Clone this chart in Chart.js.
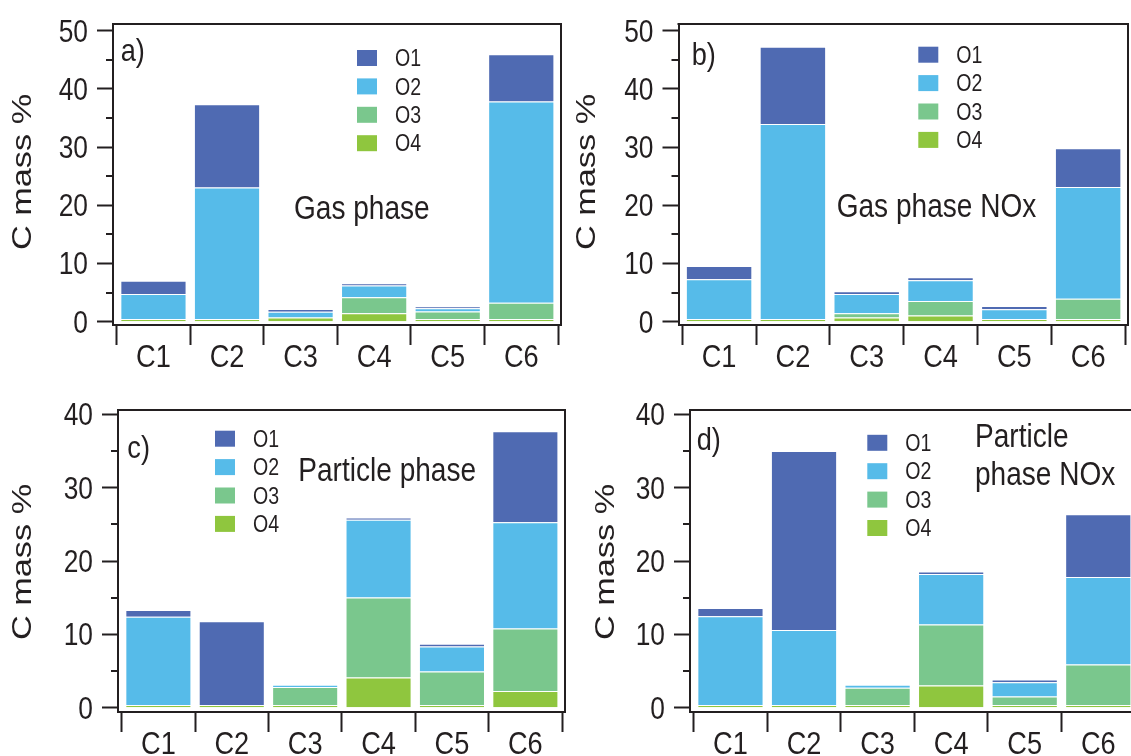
<!DOCTYPE html>
<html>
<head>
<meta charset="utf-8">
<title>C mass % – gas and particle phase</title>
<script src="https://cdn.jsdelivr.net/npm/chart.js@4.4.0/dist/chart.umd.min.js"></script>
<style>
  html, body { margin: 0; padding: 0; background: #fff; }
  body { position: relative; width: 1131px; height: 756px; overflow: hidden; }
  canvas { position: absolute; }
</style>
</head>
<body>
<canvas id="chartA" style="left:0;top:0" width="570" height="378"></canvas>
<canvas id="chartB" style="left:565px;top:0" width="566" height="378"></canvas>
<canvas id="chartC" style="left:0;top:378px" width="570" height="378"></canvas>
<canvas id="chartD" style="left:565px;top:378px" width="580" height="378"></canvas>
<script>
// ── Data ─────────────────────────────────────────────────────
const categories   = ['C1', 'C2', 'C3', 'C4', 'C5', 'C6'];
const seriesNames  = ['O1', 'O2', 'O3', 'O4'];
const seriesColors = ['#4f6ab2', '#56bbe9', '#7ac78d', '#8fc63e'];

const yTicksGas      = [0, 10, 20, 30, 40, 50];
const yTicksParticle = [0, 10, 20, 30, 40];

// a) Gas phase
const gasO1 = [2.3, 14.3, 0.5, 0.4, 0.35, 8.1];
const gasO2 = [4.3, 22.6, 1.0, 2.0, 0.55, 34.6];
const gasO3 = [0, 0, 0, 2.75, 1.3, 2.8];
const gasO4 = [0.45, 0.45, 0.7, 1.45, 0.45, 0.45];

// b) Gas phase NOx
const gasNoxO1 = [2.25, 13.3, 0.5, 0.55, 0.55, 6.65];
const gasNoxO2 = [6.85, 33.5, 3.3, 3.55, 1.7, 19.2];
const gasNoxO3 = [0, 0, 0.75, 2.5, 0, 3.5];
const gasNoxO4 = [0.45, 0.45, 0.7, 1.05, 0.45, 0.45];

// c) Particle phase
const partO1 = [0.95, 11.4, 0, 0.3, 0.4, 12.4];
const partO2 = [12.0, 0, 0.3, 10.6, 3.4, 14.5];
const partO3 = [0, 0, 2.45, 10.9, 4.55, 8.5];
const partO4 = [0.4, 0.4, 0.4, 4.15, 0.4, 2.3];

// d) Particle phase NOx
const partNoxO1 = [1.1, 24.4, 0, 0.35, 0.35, 8.55];
const partNoxO2 = [12.1, 10.2, 0.4, 6.9, 1.95, 11.95];
const partNoxO3 = [0, 0, 2.35, 8.3, 1.15, 5.5];
const partNoxO4 = [0.4, 0.4, 0.4, 3.05, 0.4, 0.4];

// ── Style ────────────────────────────────────────────────────
const INK     = '#231f20';
const FONT    = '"Liberation Sans", Arial, sans-serif';
const SQUEEZE = 0.85;   // the original lettering is a narrow grotesque
const X_MIN   = -0.05;
const X_MAX   = 6.04;

const panels = [
  { id: 'chartA', tag: 'a)', series: [gasO1, gasO2, gasO3, gasO4], yTicks: yTicksGas,
    yMin: -0.57, yMax: 51.15, area: { left: 113, top: 24, right: 561, bottom: 325 },
    tagAt: [120.7, 61], notes: [['Gas phase', 294, 219]], legendAt: [357, 58], titleAt: [24, 172] },
  { id: 'chartB', tag: 'b)', series: [gasNoxO1, gasNoxO2, gasNoxO3, gasNoxO4], yTicks: yTicksGas,
    yMin: -0.57, yMax: 51.15, area: { left: 113.5, top: 24, right: 563, bottom: 325 },
    tagAt: [126.7, 65], notes: [['Gas phase NOx', 271.7, 217]], legendAt: [353.3, 54.7], titleAt: [23, 172] },
  { id: 'chartC', tag: 'c)', series: [partO1, partO2, partO3, partO4], yTicks: yTicksParticle,
    yMin: -0.57, yMax: 40.6, area: { left: 118, top: 32, right: 565, bottom: 334 },
    tagAt: [127.3, 80], notes: [['Particle phase', 298.3, 102.7]], legendAt: [215, 60.7], titleAt: [24, 184] },
  { id: 'chartD', tag: 'd)', series: [partNoxO1, partNoxO2, partNoxO3, partNoxO4], yTicks: yTicksParticle,
    yMin: -0.57, yMax: 40.6, area: { left: 125, top: 32, right: 573, bottom: 334 },
    tagAt: [131.7, 72], notes: [['Particle', 410, 69], ['phase NOx', 410, 107]], legendAt: [302.3, 64.8], titleAt: [41.7, 184] }
];

function narrowText(ctx, txt, x, y, size, align) {
  ctx.save();
  ctx.translate(x, y);
  ctx.scale(SQUEEZE, 1);
  ctx.font = `${size}px ${FONT}`;
  ctx.textAlign = align || 'left';
  ctx.fillText(txt, 0, 0);
  ctx.restore();
}

// ── Decorations: frame, minor ticks, labels, legend ─────────
function makeDecor(p) {
  return {
    id: 'panelDecor',
    afterDraw(chart) {
      const { ctx, chartArea: a } = chart;
      const xScale = chart.scales.x;
      const yScale = chart.scales.y;
      ctx.save();
      ctx.strokeStyle = INK;
      ctx.fillStyle = INK;
      ctx.lineWidth = 2;
      ctx.textBaseline = 'alphabetic';

      // top + right frame
      ctx.beginPath();
      ctx.moveTo(a.left - 1, a.top);
      ctx.lineTo(a.right, a.top);
      ctx.lineTo(a.right, a.bottom + 1);
      ctx.stroke();

      // minor y ticks halfway between labelled ones
      for (let i = 0; i < p.yTicks.length - 1; i++) {
        const py = Math.round(yScale.getPixelForValue((p.yTicks[i] + p.yTicks[i + 1]) / 2));
        ctx.beginPath();
        ctx.moveTo(a.left - 7, py);
        ctx.lineTo(a.left, py);
        ctx.stroke();
      }

      // tick labels, placed from the chart's own scales
      p.yTicks.forEach(v => narrowText(ctx, String(v), a.left - 25, yScale.getPixelForValue(v) + 11, 31, 'right'));
      categories.forEach((c, i) => narrowText(ctx, c, xScale.getPixelForValue(i + 0.5), a.bottom + 42, 32, 'center'));

      // legend (O1 on top)
      const [lx, ly] = p.legendAt;
      chart.data.datasets.slice().reverse().forEach((ds, i) => {
        const cy = ly + i * 28.4;
        ctx.fillStyle = ds.backgroundColor;
        ctx.fillRect(lx, cy - 8, 20, 16);
        ctx.fillStyle = INK;
        narrowText(ctx, ds.label, lx + 38, cy + 8.2, 23);
      });

      // panel tag + phase notes
      narrowText(ctx, p.tag, p.tagAt[0], p.tagAt[1], 32);
      p.notes.forEach(([txt, x, y]) => narrowText(ctx, txt, x, y, 33));

      // y title, stretched along its length like the original
      ctx.translate(p.titleAt[0], p.titleAt[1]);
      ctx.rotate(-Math.PI / 2);
      ctx.scale(1.27, 1);
      ctx.font = `27px ${FONT}`;
      ctx.textAlign = 'center';
      ctx.textBaseline = 'middle';
      ctx.fillText('C mass %', 0, 0);
      ctx.restore();
    }
  };
}

function buildChart(p) {
  const canvas = document.getElementById(p.id);
  const W = canvas.width, H = canvas.height;
  const a = p.area;

  // stack order bottom → top: O4, O3, O2, O1
  const datasets = seriesNames.map((name, k) => ({
    label: name,
    data: p.series[k].map((v, i) => ({ x: i + 0.5, y: v })),
    backgroundColor: seriesColors[k],
    borderColor: 'rgba(255,255,255,0.55)',
    borderWidth: 1,
    categoryPercentage: 1,
    barPercentage: 0.9
  })).reverse();

  return new Chart(canvas, {
    type: 'bar',
    data: { datasets },
    plugins: [makeDecor(p)],
    options: {
      responsive: false,
      animation: false,
      devicePixelRatio: 1,
      events: [],
      layout: { autoPadding: false, padding: { left: 0, top: a.top, right: W - a.right, bottom: 0 } },
      plugins: { legend: { display: false }, tooltip: { enabled: false } },
      scales: {
        x: {
          type: 'linear',
          stacked: true,
          offset: false,
          min: X_MIN,
          max: X_MAX,
          afterBuildTicks: s => { s.ticks = categories.map((c, i) => ({ value: i })).concat({ value: categories.length }); },
          afterFit: s => { s.height = H - a.bottom; s.paddingLeft = s.paddingRight = 0; },
          grid: { offset: false, drawOnChartArea: false, tickLength: 20, tickWidth: 2, tickColor: INK },
          border: { color: INK, width: 2 },
          ticks: { display: false }
        },
        y: {
          stacked: true,
          min: p.yMin,
          max: p.yMax,
          afterBuildTicks: s => { s.ticks = p.yTicks.map(v => ({ value: v })); },
          afterFit: s => { s.width = a.left; s.paddingTop = s.paddingBottom = 0; },
          grid: { drawOnChartArea: false, tickLength: 16, tickWidth: 2, tickColor: INK },
          border: { color: INK, width: 2 },
          ticks: { display: false }
        }
      }
    }
  });
}

panels.forEach(buildChart);
</script>
</body>
</html>
